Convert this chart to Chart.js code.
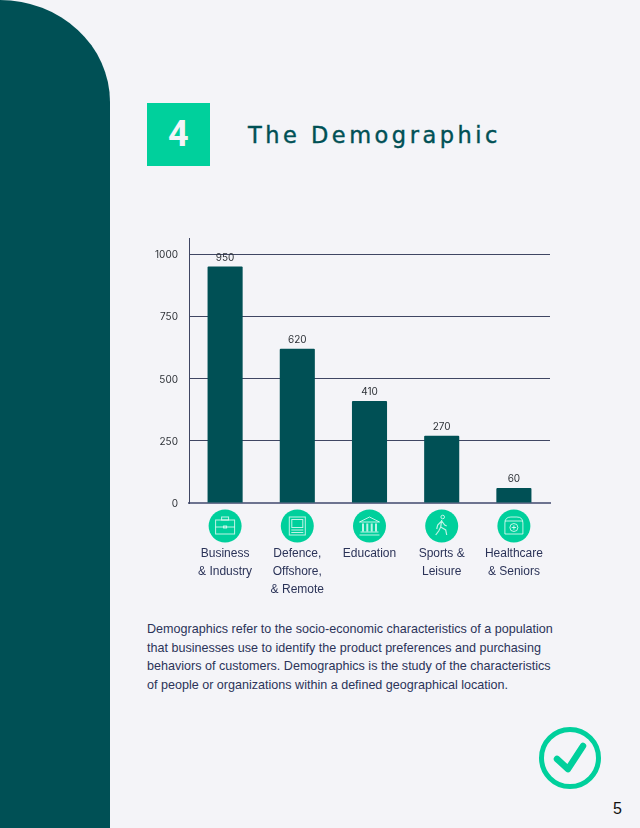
<!DOCTYPE html>
<html>
<head>
<meta charset="utf-8">
<title>The Demographic</title>
<script src="https://cdn.jsdelivr.net/npm/chart.js@4"></script>
<style>
    html, body { margin: 0; padding: 0; }
    body { width: 640px; height: 828px; position: relative; overflow: hidden; background: #f4f4f8; font-family: "Liberation Sans", sans-serif; }
    #sidebar { position: absolute; left: 0; top: 0; width: 110px; height: 828px; background: #005055; border-top-right-radius: 110px 102px; }
    #numberBox { position: absolute; left: 147px; top: 103px; width: 62.5px; height: 63px; background: #00d09c; color: #f4f4f8; font: bold 36px/63px Roboto, sans-serif; text-align: center; }
    #title { position: absolute; left: 248px; top: 118px; color: #005055; font: 400 22.5px/34px "DejaVu Sans", sans-serif; letter-spacing: 3.5px; -webkit-text-stroke: 0.4px #005055; white-space: nowrap; }
    #chartWrap { position: absolute; left: 130px; top: 230px; width: 440px; height: 380px; }
    #description { position: absolute; left: 147px; top: 620px; width: 420px; color: #2b3358; font-size: 12.57px; line-height: 18.6px; white-space: nowrap; }
    #checkIcon { position: absolute; left: 538px; top: 726px; }
    #pageNumber { position: absolute; left: 613px; top: 799px; color: #111; font-size: 16px; line-height: 20px; }
</style>
</head>
<body>
<div id="sidebar"></div>
<div id="numberBox">4</div>
<div id="title">The Demographic</div>
<div id="chartWrap"><canvas id="chartCanvas" width="440" height="380"></canvas></div>
<div id="description">
    Demographics refer to the socio-economic characteristics of a population<br>
    that businesses use to identify the product preferences and purchasing<br>
    behaviors of customers. Demographics is the study of the characteristics<br>
    of people or organizations within a defined geographical location.
</div>
<svg id="checkIcon" width="64" height="64" viewBox="0 0 64 64">
    <circle cx="32" cy="32" r="28.5" fill="none" stroke="#00d09c" stroke-width="5"/>
    <path d="M19 33 L30 43 L45 20" fill="none" stroke="#00d09c" stroke-width="6.5" stroke-linecap="round" stroke-linejoin="round"/>
</svg>
<div id="pageNumber">5</div>

<script>
// Chart data
const categories = [
    ['Business', '& Industry'],
    ['Defence,', 'Offshore,', '& Remote'],
    ['Education'],
    ['Sports &', 'Leisure'],
    ['Healthcare', '& Seniors']
];
const audienceValues = [950, 620, 410, 270, 60];
const yTickValues = [0, 250, 500, 750, 1000];
const yAxisMax = 1065;

const TEAL = '#005055';
const GREEN = '#00d09c';
const GRID = '#3f4663';
const LABEL = '#2b3358';
const ICON_LINE = 'rgba(255, 255, 255, 0.75)';

// Small white line icons, drawn around the centre of each circle
const iconDrawers = [
    function briefcase(c) {
        c.strokeRect(-9.5, -6, 19, 14);
        c.strokeRect(-3.5, -9, 7, 3);
        c.beginPath(); c.moveTo(-9.5, 1); c.lineTo(9.5, 1); c.stroke();
        c.strokeRect(-1.5, 0, 3, 2);
    },
    function laptop(c) {
        c.strokeRect(-8, -9, 16, 18);
        c.strokeRect(-5.5, -6.5, 11, 8);
        c.beginPath();
        c.moveTo(-6, 4); c.lineTo(6, 4);
        c.moveTo(-6, 6.5); c.lineTo(6, 6.5);
        c.stroke();
    },
    function bank(c) {
        c.beginPath();
        c.moveTo(-10, -4); c.lineTo(0, -9); c.lineTo(10, -4); c.closePath();
        c.moveTo(-9, 6); c.lineTo(9, 6);
        c.moveTo(-10, 9); c.lineTo(10, 9);
        c.stroke();
        [-6.5, -2.2, 2.2, 6.5].forEach(function(x) { c.fillRect(x - 1, -2.5, 2, 8); });
    },
    function walker(c) {
        c.beginPath(); c.arc(1, -9, 1.8, 0, Math.PI * 2); c.stroke();
        c.lineWidth = 1.2;
        c.beginPath();
        c.moveTo(0, -6); c.lineTo(-1, 1); c.lineTo(4, 4); c.lineTo(5, 9);
        c.moveTo(-1, 1); c.lineTo(-3, 5); c.lineTo(-6, 9);
        c.moveTo(0, -5); c.lineTo(-4, -1); c.lineTo(-5, 3);
        c.moveTo(0, -5); c.lineTo(3, -1); c.lineTo(5, 0);
        c.stroke();
    },
    function medicalKit(c) {
        c.beginPath();
        c.moveTo(-9, 8); c.lineTo(-9, -3);
        c.quadraticCurveTo(-9, -9, -3, -9);
        c.lineTo(3, -9);
        c.quadraticCurveTo(9, -9, 9, -3);
        c.lineTo(9, 8); c.closePath();
        c.moveTo(-9, -5); c.lineTo(9, -5);
        c.stroke();
        c.beginPath(); c.arc(0, 1.5, 4, 0, Math.PI * 2); c.stroke();
        c.fillRect(-2.2, 1, 4.4, 1);
        c.fillRect(-0.5, -0.7, 1, 4.4);
    }
];

// Value above each bar
const barValuePlugin = {
    id: 'barValues',
    afterDatasetsDraw: function(chart) {
        const c = chart.ctx;
        const bars = chart.getDatasetMeta(0).data;
        c.save();
        c.font = '10px Inter, sans-serif';
        c.fillStyle = '#2e3238';
        c.textAlign = 'center';
        c.textBaseline = 'bottom';
        bars.forEach(function(bar, i) {
            c.fillText(audienceValues[i], bar.x, bar.y - 4);
        });
        c.restore();
    }
};

// Green circle with icon under each category
const categoryIconPlugin = {
    id: 'categoryIcons',
    afterDraw: function(chart) {
        const c = chart.ctx;
        const bottom = chart.scales.y.bottom;
        categories.forEach(function(label, i) {
            const x = chart.scales.x.getPixelForTick(i);
            c.save();
            c.translate(x, bottom + 23);
            c.fillStyle = GREEN;
            c.beginPath(); c.arc(0, 0, 16.5, 0, Math.PI * 2); c.fill();
            c.strokeStyle = ICON_LINE;
            c.fillStyle = ICON_LINE;
            c.lineWidth = 1;
            iconDrawers[i](c);
            c.restore();
        });
    }
};

var ctx = document.getElementById('chartCanvas').getContext('2d');
var demographicChart = new Chart(ctx, {
    type: 'bar',
    data: {
        labels: categories,
        datasets: [{
            data: audienceValues,
            backgroundColor: TEAL,
            borderRadius: 1,
            borderSkipped: 'bottom',
            barPercentage: 0.486,
            categoryPercentage: 1
        }]
    },
    options: {
        responsive: false,
        animation: false,
        layout: { padding: { top: 8, right: 20, bottom: 0, left: 0 } },
        plugins: { legend: { display: false }, tooltip: { enabled: false } },
        scales: {
            x: {
                afterFit: function(axis) {
                    axis.height = 107;
                    axis.paddingLeft = 0;
                    axis.paddingRight = 0;
                },
                grid: { display: false, drawTicks: false },
                border: { color: '#6d7390', width: 2 },
                ticks: {
                    color: LABEL,
                    padding: 42,
                    maxRotation: 0,
                    autoSkip: false,
                    font: { family: 'Liberation Sans', size: 12, lineHeight: 1.5 }
                }
            },
            y: {
                min: 0,
                max: yAxisMax,
                afterFit: function(axis) {
                    axis.width = 59;
                    axis.paddingTop = 0;
                    axis.paddingBottom = 0;
                },
                afterBuildTicks: function(axis) {
                    axis.ticks = yTickValues.map(function(v) { return { value: v }; });
                },
                grid: { color: GRID, lineWidth: 1, drawTicks: false },
                border: { color: GRID, width: 1 },
                ticks: {
                    color: '#2e3238',
                    padding: 11,
                    labelOffset: 1,
                    font: { family: 'Inter', size: 10 },
                    callback: function(value) { return String(value); }
                }
            }
        }
    },
    plugins: [barValuePlugin, categoryIconPlugin]
});
</script>
</body>
</html>
